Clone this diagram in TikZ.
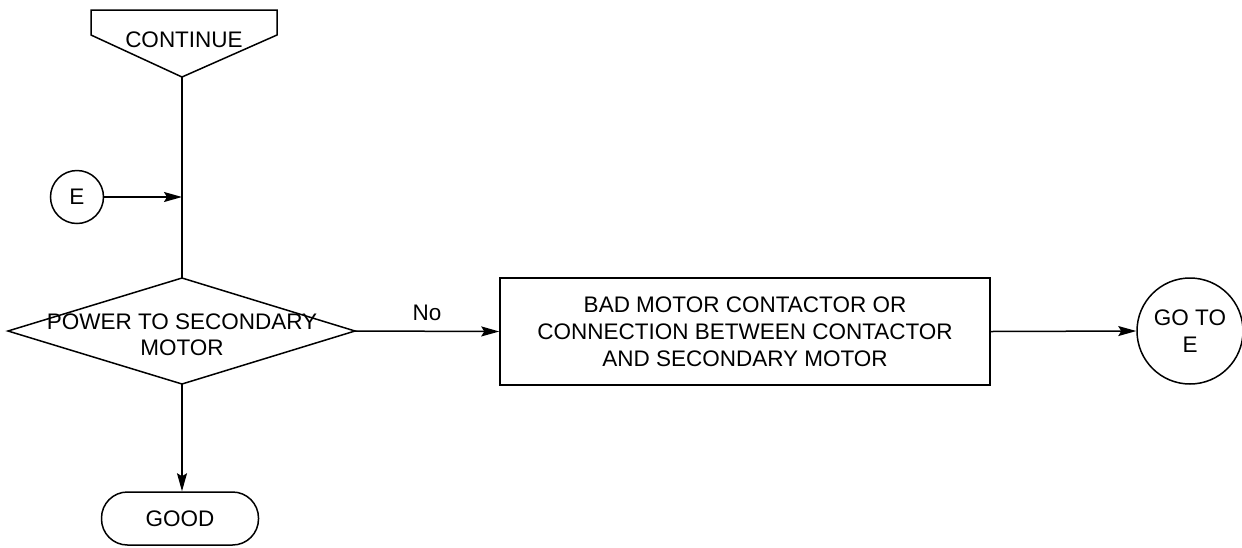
\documentclass[tikz,border=0pt]{standalone}
\usepackage{fontspec}
\setmainfont{Liberation Sans}
\usetikzlibrary{arrows.meta,shapes.geometric}
\begin{document}
\begin{tikzpicture}[x=1pt,y=-1pt,
  every node/.style={font=\fontsize{22.5}{27}\selectfont, align=center},
  line/.style={line width=1.5pt},
  arr/.style={line width=1.5pt,-{Stealth[length=18pt,width=10pt,inset=3pt]}},
  conn/.style={draw,line width=1.5pt,circle,inner sep=0pt}]
\useasboundingbox (0,0) rectangle (1242,547);
% CONTINUE off-page connector
\draw[line] (91,10) -- (277,10) -- (277,35) -- (182,77) -- (91,35) -- cycle;
\node (cont) at (184,40) {CONTINUE};
\coordinate (contb) at (182,77);
% E connector
\node[conn, minimum size=53pt] (e) at (77,197) {E};
\coordinate (join) at (182,197);
% decision diamond
\draw[line] (182,278) -- (355,331) -- (182,384) -- (8,331) -- cycle;
\coordinate (dtop) at (182,278);
\coordinate (dright) at (355,331);
\coordinate (dbot) at (182,384);
\node (dec) at (182,335) {POWER TO SECONDARY\\[-1pt]MOTOR};
% box
\node[draw,line width=1.5pt,minimum width=490pt,minimum height=107pt] (box) at (745,331.5)
  {BAD MOTOR CONTACTOR OR\\CONNECTION BETWEEN CONTACTOR\\AND SECONDARY MOTOR};
% go to E
\node[conn, minimum size=106pt] (goto) at (1190,331) {GO TO\\E};
% GOOD terminal
\node[draw,line width=1.5pt,rounded corners=26pt,minimum width=157pt,minimum height=53pt] (good) at (180,518.5) {GOOD};
% connectors
\draw[line] (contb) -- (dtop);
\draw[arr] (e) -- (join);
\draw[arr] (dright) -- node[above=6pt, pos=0.5] {No} (box.west);
\draw[arr] (box.east) -- (goto.west);
\draw[arr] (dbot) -- (good.north -| dbot);
\end{tikzpicture}
\end{document}
